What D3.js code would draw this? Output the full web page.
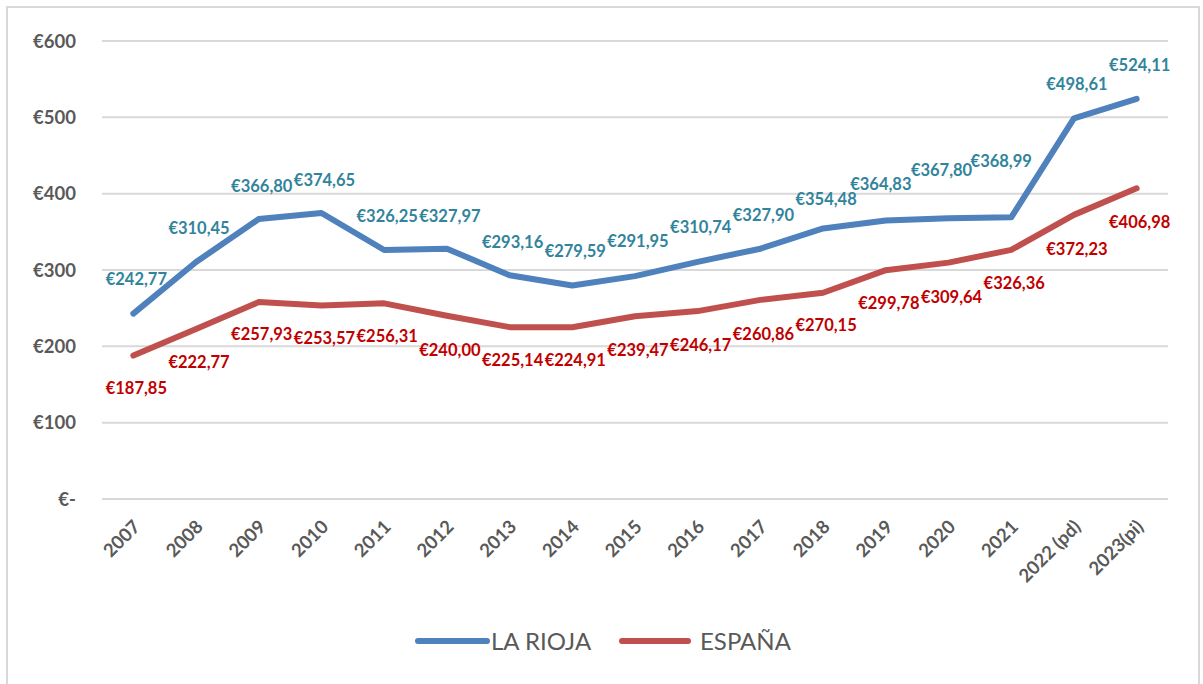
<!DOCTYPE html>
<html>
<head>
<meta charset="utf-8">
<script src="https://cdn.jsdelivr.net/npm/d3@7/dist/d3.min.js"></script>
<style>
  html, body { margin: 0; padding: 0; background: #ffffff; }
  svg { display: block; }
  text { font-family: Lato, "Open Sans", "DejaVu Sans", sans-serif; }
</style>
</head>
<body>
<svg id="chart" width="1203" height="684"></svg>
<script>
// Categories (years) and the two series, in euros
const years = ["2007","2008","2009","2010","2011","2012","2013","2014","2015","2016","2017","2018","2019","2020","2021","2022 (pd)","2023(pi)"];
const laRioja = [242.77,310.45,366.80,374.65,326.25,327.97,293.16,279.59,291.95,310.74,327.90,354.48,364.83,367.80,368.99,498.61,524.11];
const espana  = [187.85,222.77,257.93,253.57,256.31,240.00,225.14,224.91,239.47,246.17,260.86,270.15,299.78,309.64,326.36,372.23,406.98];
const seriesNames = ["LA RIOJA", "ESPAÑA"];
const yTicks = [0, 100, 200, 300, 400, 500, 600];

// Small per-label nudges (px) for the value labels that sit off their default spot
const riojaLabelNudge = [[0,-1],[0,0],[0,1],[0,1],[0,0],[0,1],[0,1],[0,-1],[0,-1],[0,-1],[0,0],[0,5],[-8,-3],[-10,-14],[-13,-22],[0,0],[0,0]];
const espanaLabelNudge = [[0,-1],[0,0],[0,-1],[0,0],[0,0],[0,1],[0,0],[0,0],[0,1],[0,1],[0,1],[0,-1],[0,0],[0,1],[0,0],[0,1],[0,1]];

const svg = d3.select("#chart");
const textGray = "#595959";
const blue = "#4F81BD", red = "#C0504D";
const blueLabel = "#31849B", redLabel = "#C00000";

// Chart frame
svg.append("rect")
  .attr("x", 7).attr("y", 7).attr("width", 1192).attr("height", 700)
  .attr("fill", "#fff").attr("stroke", "#D9D9D9").attr("stroke-width", 2);

const x = d3.scaleBand().domain(years).range([102, 1168]);
const y = d3.scaleLinear().domain([0, 600]).range([499, 41]);
const cx = d => x(d) + x.bandwidth() / 2;

// Horizontal gridlines
svg.append("g").selectAll("line").data(yTicks).join("line")
  .attr("x1", 102).attr("x2", 1168)
  .attr("y1", d => y(d)).attr("y2", d => y(d))
  .attr("stroke", "#D9D9D9").attr("stroke-width", 2);

// Y axis labels
const fmtAxis = d => d === 0 ? "€-" : "€" + d;
svg.append("g").selectAll("text").data(yTicks).join("text")
  .attr("x", 76).attr("y", d => y(d) + 6.5)
  .attr("text-anchor", "end")
  .attr("font-size", 18.5).attr("font-weight", 700).attr("fill", textGray)
  .text(fmtAxis);

// X axis labels, rotated
svg.append("g").selectAll("text").data(years).join("text")
  .attr("transform", d => `translate(${cx(d) + 8},${528}) rotate(-45)`)
  .attr("text-anchor", "end")
  .attr("font-size", 18.5).attr("font-weight", 700).attr("fill", textGray)
  .text(d => d);

// Lines
const line = d3.line().x((d, i) => cx(years[i])).y(d => y(d));
[[laRioja, blue], [espana, red]].forEach(([vals, col]) => {
  svg.append("path").datum(vals)
    .attr("d", line)
    .attr("fill", "none").attr("stroke", col).attr("stroke-width", 6)
    .attr("stroke-linejoin", "round").attr("stroke-linecap", "round");
});

// Value labels
const fmtVal = v => "€" + v.toFixed(2).replace(".", ",");
function labels(vals, nudge, color, dy) {
  svg.append("g").selectAll("text").data(vals).join("text")
    .attr("x", (v, i) => cx(years[i]) + 3 + nudge[i][0])
    .attr("y", (v, i) => y(v) + dy + nudge[i][1] + 6)
    .attr("text-anchor", "middle")
    .attr("font-size", 16.5).attr("font-weight", 700).attr("fill", color)
    .text(fmtVal);
}
labels(laRioja, riojaLabelNudge, blueLabel, -34);
labels(espana, espanaLabelNudge, redLabel, 33);

// Legend
const legend = [
  { name: seriesNames[0], color: blue, x1: 418, x2: 487, tx: 491 },
  { name: seriesNames[1], color: red, x1: 622, x2: 688, tx: 700 }
];
const lg = svg.append("g");
legend.forEach(l => {
  lg.append("line").attr("x1", l.x1).attr("x2", l.x2).attr("y1", 641).attr("y2", 641)
    .attr("stroke", l.color).attr("stroke-width", 6).attr("stroke-linecap", "round");
  lg.append("text").attr("x", l.tx).attr("y", 649.5)
    .attr("font-size", 24).attr("fill", textGray).text(l.name);
});
</script>
</body>
</html>
